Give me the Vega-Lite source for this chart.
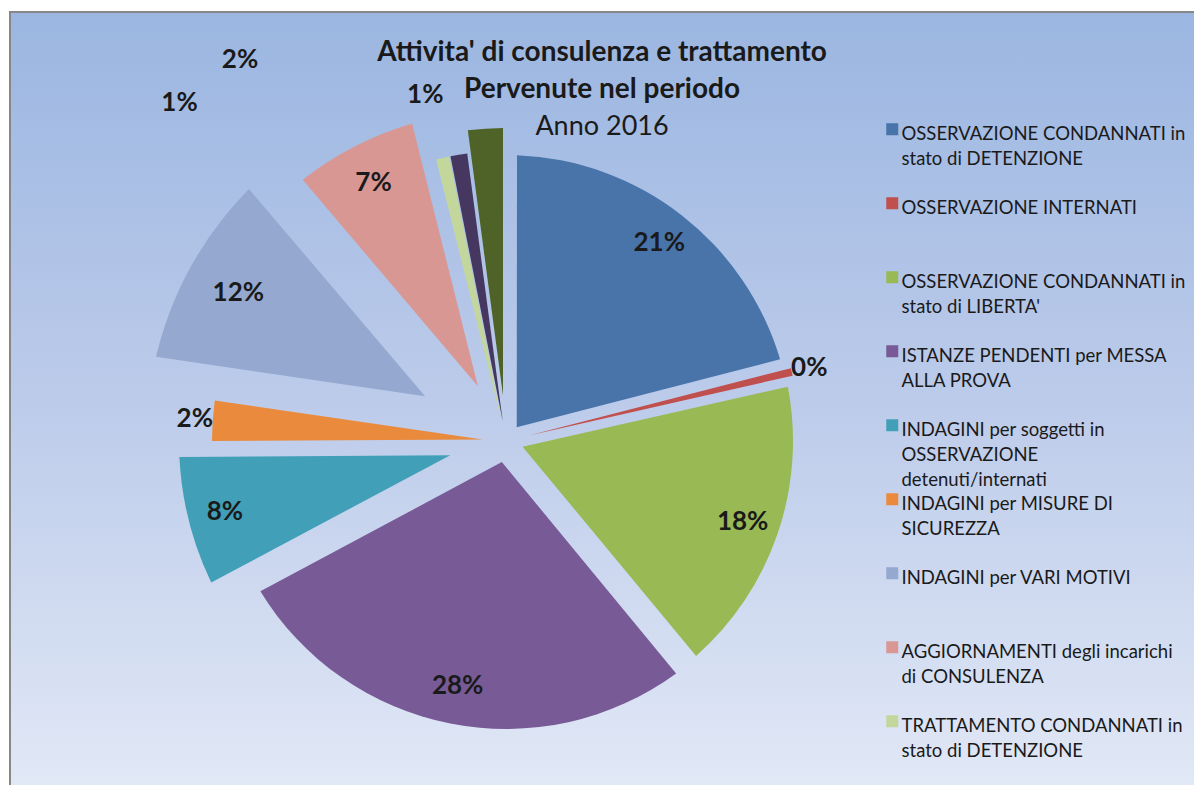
{
  "$schema": "https://vega.github.io/schema/vega-lite/v6.json",
  "width": 1184,
  "height": 773,
  "autosize": {"type": "none"},
  "padding": {"left": 10, "top": 12, "right": 0, "bottom": 0},
  "background": "white",
  "view": {
    "fill": {"gradient": "linear", "x1": 0, "y1": 0, "x2": 0, "y2": 1,
      "stops": [{"offset": 0, "color": "#9bb6e1"}, {"offset": 0.5, "color": "#bccbea"}, {"offset": 1, "color": "#e1e8f6"}]},
    "stroke": "#878787",
    "strokeWidth": 2,
    "strokeDash": [1184, 1957, 773, 1]
  },
  "config": {"font": "Lato"},
  "title": {
    "text": ["Attivita' di consulenza e trattamento", "Pervenute nel periodo"],
    "subtitle": "Anno 2016",
    "anchor": "middle",
    "frame": "group",
    "offset": -179,
    "font": "Lato",
    "fontSize": 28,
    "fontWeight": "bold",
    "color": "#1a1a1a",
    "lineHeight": 37,
    "subtitleFont": "Lato",
    "subtitleFontSize": 27,
    "subtitleFontWeight": "normal",
    "subtitleColor": "#1a1a1a",
    "subtitlePadding": 10
  },
  "data": {
    "values": [
      {"n": 1, "cat": "OSSERVAZIONE CONDANNATI in stato di DETENZIONE", "value": 21, "label": "21%"},
      {"n": 2, "cat": "OSSERVAZIONE INTERNATI", "value": 0.45, "label": "0%"},
      {"n": 3, "cat": "OSSERVAZIONE CONDANNATI in stato di LIBERTA'", "value": 17.55, "label": "18%"},
      {"n": 4, "cat": "ISTANZE PENDENTI per MESSA ALLA PROVA", "value": 28.2, "label": "28%"},
      {"n": 5, "cat": "INDAGINI per soggetti in OSSERVAZIONE detenuti/internati", "value": 7.7, "label": "8%"},
      {"n": 6, "cat": "INDAGINI per MISURE DI SICUREZZA", "value": 2.4, "label": "2%"},
      {"n": 7, "cat": "INDAGINI per VARI MOTIVI", "value": 11.5, "label": "12%"},
      {"n": 8, "cat": "AGGIORNAMENTI degli incarichi di CONSULENZA", "value": 7.3, "label": "7%"},
      {"n": 9, "cat": "TRATTAMENTO CONDANNATI in stato di DETENZIONE", "value": 0.8, "label": "1%"},
      {"n": 10, "cat": "TRATTAMENTO CONDANNATI in stato di LIBERTA'", "value": 1.0, "label": "1%"},
      {"n": 11, "cat": "TRATTAMENTO INTERNATI", "value": 2.1, "label": "2%"}
    ]
  },
  "encoding": {
    "theta": {"field": "value", "type": "quantitative", "stack": true},
    "order": {"field": "n", "type": "quantitative"}
  },
  "layer": [
    {
      "mark": {"type": "arc", "x": 496, "y": 429, "radius": 286, "radius2": 17.5, "padAngle": 0.077},
      "encoding": {
        "color": {"field": "cat", "type": "nominal", "sort": null,
          "scale": {
            "domain": ["OSSERVAZIONE CONDANNATI in stato di DETENZIONE", "OSSERVAZIONE INTERNATI", "OSSERVAZIONE CONDANNATI in stato di LIBERTA'", "ISTANZE PENDENTI per MESSA ALLA PROVA", "INDAGINI per soggetti in OSSERVAZIONE detenuti/internati", "INDAGINI per MISURE DI SICUREZZA", "INDAGINI per VARI MOTIVI", "AGGIORNAMENTI degli incarichi di CONSULENZA", "TRATTAMENTO CONDANNATI in stato di DETENZIONE", "TRATTAMENTO CONDANNATI in stato di LIBERTA'", "TRATTAMENTO INTERNATI"],
            "range": ["#4874aa", "#c0504d", "#98b954", "#775a96", "#41a0b8", "#ea8a3c", "#94a8d0", "#d99794", "#c3d69b", "#45375f", "#4f6228"]
          },
          "legend": {
            "orient": "none",
            "legendX": 873,
            "legendY": 108,
            "title": null,
            "values": ["OSSERVAZIONE CONDANNATI in stato di DETENZIONE", "OSSERVAZIONE INTERNATI", "OSSERVAZIONE CONDANNATI in stato di LIBERTA'", "ISTANZE PENDENTI per MESSA ALLA PROVA", "INDAGINI per soggetti in OSSERVAZIONE detenuti/internati", "INDAGINI per MISURE DI SICUREZZA", "INDAGINI per VARI MOTIVI", "AGGIORNAMENTI degli incarichi di CONSULENZA", "TRATTAMENTO CONDANNATI in stato di DETENZIONE"],
            "symbolType": "square",
            "symbolSize": 144,
            "symbolStrokeWidth": 0,
            "labelFont": "Lato",
            "labelFontSize": 18.5,
            "labelColor": "#1a1a1a",
            "labelLimit": 400,
            "labelOffset": 0,
            "labelBaseline": "top",
            "rowPadding": 0,
            "labelExpr": "slice(split(slice(replace(datum.label + ' ', regexp('(.{1,29}) ', 'g'), '$1|'), 0, -1) + '| | ', '|'), 0, 3)",
            "encode": {"labels": {"update": {"lineHeight": {"value": 25}, "dy": {"value": -4}}}}
          }
        },
        "fillOpacity": {"condition": {"test": "datum.n == 1", "value": 1}, "value": 0}
      }
    },
    {
      "mark": {"type": "arc", "x": 496, "y": 429, "radius": 294, "radius2": 23.5, "padAngle": 0.0023},
      "encoding": {
        "color": {"field": "cat", "type": "nominal", "sort": null},
        "fillOpacity": {"condition": {"test": "datum.n == 2", "value": 1}, "value": 0}
      }
    },
    {
      "mark": {"type": "arc", "x": 496, "y": 429, "radius": 287, "radius2": 17.5, "padAngle": 0.0656},
      "encoding": {
        "color": {"field": "cat", "type": "nominal", "sort": null},
        "fillOpacity": {"condition": {"test": "datum.n == 3", "value": 1}, "value": 0}
      }
    },
    {
      "mark": {"type": "arc", "x": 496, "y": 429, "radius": 288, "radius2": 21.5, "padAngle": 0.1181},
      "encoding": {
        "color": {"field": "cat", "type": "nominal", "sort": null},
        "fillOpacity": {"condition": {"test": "datum.n == 4", "value": 1}, "value": 0}
      }
    },
    {
      "mark": {"type": "arc", "x": 496, "y": 429, "radius": 327, "radius2": 57.5, "padAngle": 0.0837},
      "encoding": {
        "color": {"field": "cat", "type": "nominal", "sort": null},
        "fillOpacity": {"condition": {"test": "datum.n == 5", "value": 1}, "value": 0}
      }
    },
    {
      "mark": {"type": "arc", "x": 496, "y": 429, "radius": 294, "radius2": 23.5, "padAngle": 0.01225},
      "encoding": {
        "color": {"field": "cat", "type": "nominal", "sort": null},
        "fillOpacity": {"condition": {"test": "datum.n == 6", "value": 1}, "value": 0}
      }
    },
    {
      "mark": {"type": "arc", "x": 496, "y": 429, "radius": 360, "radius2": 92.5, "padAngle": 0.1772},
      "encoding": {
        "color": {"field": "cat", "type": "nominal", "sort": null},
        "fillOpacity": {"condition": {"test": "datum.n == 7", "value": 1}, "value": 0}
      }
    },
    {
      "mark": {"type": "arc", "x": 496, "y": 429, "radius": 331, "radius2": 61.5, "padAngle": 0.0837},
      "encoding": {
        "color": {"field": "cat", "type": "nominal", "sort": null},
        "fillOpacity": {"condition": {"test": "datum.n == 8", "value": 1}, "value": 0}
      }
    },
    {
      "mark": {"type": "arc", "x": 496, "y": 429, "radius": 290, "radius2": 19.5, "padAngle": 0.00346},
      "encoding": {
        "color": {"field": "cat", "type": "nominal", "sort": null},
        "fillOpacity": {"condition": {"test": "datum.n == 9", "value": 1}, "value": 0}
      }
    },
    {
      "mark": {"type": "arc", "x": 496, "y": 429, "radius": 290, "radius2": 19.5, "padAngle": 0.00432},
      "encoding": {
        "color": {"field": "cat", "type": "nominal", "sort": null},
        "fillOpacity": {"condition": {"test": "datum.n == 10", "value": 1}, "value": 0}
      }
    },
    {
      "mark": {"type": "arc", "x": 496, "y": 429, "radius": 313, "radius2": 45.5, "padAngle": 0.01916},
      "encoding": {
        "color": {"field": "cat", "type": "nominal", "sort": null},
        "fillOpacity": {"condition": {"test": "datum.n == 11", "value": 1}, "value": 0}
      }
    },
    {
      "mark": {"type": "text", "x": 496, "y": 429, "radius": 250, "font": "Lato", "fontSize": 26, "fontWeight": "bold", "color": "#1a1a1a", "align": "center", "baseline": "middle"},
      "encoding": {
        "detail": {"field": "cat"},
        "text": {"condition": {"test": "indexof([1,3,4], datum.n) >= 0", "field": "label"}, "value": ""}
      }
    },
    {
      "mark": {"type": "text", "x": 496, "y": 429, "radius": 290, "font": "Lato", "fontSize": 26, "fontWeight": "bold", "color": "#1a1a1a", "align": "center", "baseline": "middle"},
      "encoding": {
        "detail": {"field": "cat"},
        "text": {"condition": {"test": "indexof([5,8], datum.n) >= 0", "field": "label"}, "value": ""}
      }
    },
    {
      "mark": {"type": "text", "x": 496, "y": 429, "radius": 306, "font": "Lato", "fontSize": 26, "fontWeight": "bold", "color": "#1a1a1a", "align": "center", "baseline": "middle"},
      "encoding": {
        "detail": {"field": "cat"},
        "text": {"condition": {"test": "datum.n == 7", "field": "label"}, "value": ""}
      }
    },
    {
      "mark": {"type": "text", "x": 496, "y": 429, "radius": 312, "font": "Lato", "fontSize": 26, "fontWeight": "bold", "color": "#1a1a1a", "align": "center", "baseline": "middle"},
      "encoding": {
        "detail": {"field": "cat"},
        "text": {"condition": {"test": "indexof([2,6], datum.n) >= 0", "field": "label"}, "value": ""}
      }
    },
    {
      "mark": {"type": "text", "x": 496, "y": 429, "radius": 355, "thetaOffset": -0.066, "font": "Lato", "fontSize": 26, "fontWeight": "bold", "color": "#1a1a1a", "align": "center", "baseline": "middle"},
      "encoding": {
        "detail": {"field": "cat"},
        "text": {"condition": {"test": "datum.n == 10", "field": "label"}, "value": ""}
      }
    },
    {
      "mark": {"type": "text", "x": 496, "y": 429, "radius": 470, "thetaOffset": -0.548, "font": "Lato", "fontSize": 26, "fontWeight": "bold", "color": "#1a1a1a", "align": "center", "baseline": "middle"},
      "encoding": {
        "detail": {"field": "cat"},
        "text": {"condition": {"test": "datum.n == 9", "field": "label"}, "value": ""}
      }
    },
    {
      "mark": {"type": "text", "x": 496, "y": 429, "radius": 465, "thetaOffset": -0.543, "font": "Lato", "fontSize": 26, "fontWeight": "bold", "color": "#1a1a1a", "align": "center", "baseline": "middle"},
      "encoding": {
        "detail": {"field": "cat"},
        "text": {"condition": {"test": "datum.n == 11", "field": "label"}, "value": ""}
      }
    }
  ]
}
